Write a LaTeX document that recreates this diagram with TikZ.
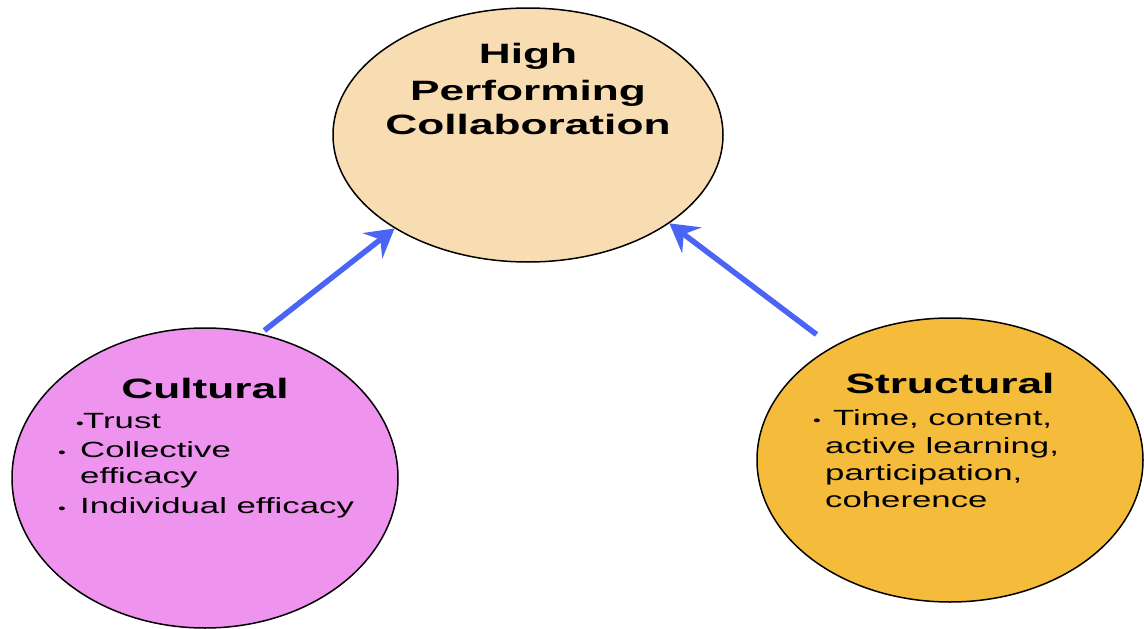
\documentclass[tikz,border=0pt]{standalone}
\usepackage{fontspec}
\setmainfont{Liberation Sans}
\newfontfamily\widesans[FakeStretch=1.58]{Liberation Sans}
\usetikzlibrary{arrows.meta, shapes.geometric}

% small round bullet, boxed to a fixed width
\newcommand{\itemdot}[1]{\makebox[#1][l]{{\fontsize{14}{14}\selectfont\textbullet}}}

\begin{document}
\begin{tikzpicture}[
    x=1pt, y=-1pt,
    every node/.style={font=\widesans},
    bubble/.style={ellipse, draw=black, line width=1.5pt, inner sep=0pt},
    headline/.style={font=\widesans\fontsize{28}{34}\selectfont\bfseries,
                     anchor=base, inner sep=0pt},
    itemline/.style={font=\widesans\fontsize{22}{28}\selectfont,
                     anchor=base west, inner sep=0pt},
    feeds/.style={-{Stealth[length=28pt, width=32pt, inset=10pt]},
                  line width=5.5pt, arrowblue},
]

\definecolor{peach}{HTML}{F9DDB2}
\definecolor{orchid}{HTML}{EE93EE}
\definecolor{gold}{HTML}{F5BC3C}
\definecolor{arrowblue}{HTML}{4A65F6}

\useasboundingbox (0,0) rectangle (1144,629);

% ---------------------------------------------------------------- bubbles
\node[bubble, fill=peach,  minimum width=390pt, minimum height=254pt] (collab)     at (528,135) {};
\node[bubble, fill=orchid, minimum width=386pt, minimum height=300pt] (cultural)   at (205,478) {};
\node[bubble, fill=gold,   minimum width=386pt, minimum height=284pt] (structural) at (950,460) {};

% ---------------------------------------------------------------- titles
\foreach \t/\y [count=\i] in {High/63, Performing/100, Collaboration/134}
  \node[headline] (collab-\i) at (528,\y) {\t};

\node[headline] (cultural-title)   at (205,398) {Cultural};
\node[headline] (structural-title) at (950,393) {Structural};

% ---------------------------------------------------------------- cultural items
\node[itemline] (trust)      at (76,428)  {\itemdot{7pt}Trust};
\node[itemline] (collective) at (58,457)  {\itemdot{22pt}Collective};
\node[itemline] (efficacy)   at (80,483)  {efficacy};
\node[itemline] (individual) at (58,513)  {\itemdot{22pt}Individual efficacy};

% ---------------------------------------------------------------- structural items
\node[itemline] (time) at (813,425) {\itemdot{20pt}Time, content,};
\foreach \t/\y [count=\i] in {{active learning,}/453, {participation,}/480, coherence/507}
  \node[itemline] (struct-\i) at (825,\y) {\t};

% ---------------------------------------------------------------- arrows
\draw[feeds, shorten <=5pt]  (cultural.69)    -- (collab.215);
\draw[feeds, shorten <=20pt] (structural.136) -- (collab.-32);

\end{tikzpicture}
\end{document}
